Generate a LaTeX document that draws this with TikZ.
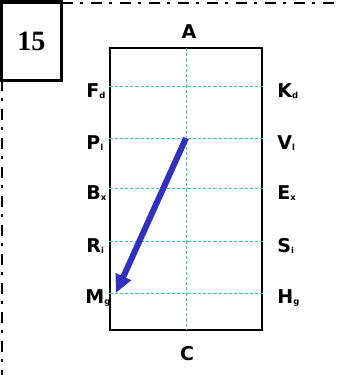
\documentclass[tikz,border=0pt]{standalone}
\usepackage{fontspec}
\setmainfont{Liberation Serif}
\setsansfont{DejaVu Sans}
\usetikzlibrary{arrows.meta, positioning}
\definecolor{gridgreen}{RGB}{60,200,168}
\definecolor{movblue}{RGB}{48,48,190}
\newcommand{\mk}[2]{#1\raisebox{-0.6pt}{\fontsize{4.2}{4.2}\selectfont #2}}

\begin{document}
\begin{tikzpicture}[x=0.5pt, y=-0.5pt,
  letter/.style={font=\sffamily\bfseries\fontsize{9.5}{9.5}\selectfont, inner sep=0pt, anchor=west},
  endletter/.style={font=\sffamily\bfseries\fontsize{9.5}{9.5}\selectfont, inner sep=0pt},
  border/.style={line width=1.4pt, dash pattern=on 5.5pt off 3.5pt on 1.5pt off 4pt},
  gridline/.style={gridgreen, line width=0.5pt, dash pattern=on 1.6pt off 1pt},
  move/.style={-{Triangle[length=9pt, width=8pt]}, movblue, line width=3pt}
]
\useasboundingbox (0,0) rectangle (338,375);

% page border and number
\draw[border] (62,3) -- (338,3);
\draw[border] (2,80) -- (2,375);
\node[draw, line width=1.5pt, minimum width=30pt, minimum height=39pt, inner sep=0pt,
      font=\rmfamily\bfseries\fontsize{14}{14}\selectfont] (num) at (31.5,41) {15};

% arena
\node[draw, line width=0.6pt, minimum width=76pt, minimum height=141pt, inner sep=0pt]
      (arena) at (186,189) {};
\coordinate (ctop) at (186,48);
\coordinate (cbot) at (186,330);
\draw[gridline] (ctop) -- (cbot);

% letters at the end
\node[endletter] (lA) at (189,32)  {A};
\node[endletter] (lC) at (187,354) {C};

% letters on the long sides
\node[letter] (lF) at (86,91)  {\mk{F}{d}};
\node[letter] (lP) at (86,143) {\mk{P}{l}};
\node[letter] (lB) at (86,193) {\mk{B}{x}};
\node[letter] (lR) at (86,246) {\mk{R}{i}};
\node[letter] (lM) at (85,298) {\mk{M}{g}};
\node[letter] (lK) at (277,91)  {\mk{K}{d}};
\node[letter] (lV) at (277,143) {\mk{V}{l}};
\node[letter] (lE) at (277,193) {\mk{E}{x}};
\node[letter] (lS) at (277,246) {\mk{S}{i}};
\node[letter] (lH) at (277,298) {\mk{H}{g}};

% cross lines
\foreach \y in {86,138,188,241,293}
  \draw[gridline] (arena.west |- 0,\y) -- (arena.east |- 0,\y);

% the movement
\coordinate (mstart) at (186,138);
\coordinate (mend)   at (116,293);
\draw[move] (mstart) -- (mend);

\end{tikzpicture}
\end{document}
